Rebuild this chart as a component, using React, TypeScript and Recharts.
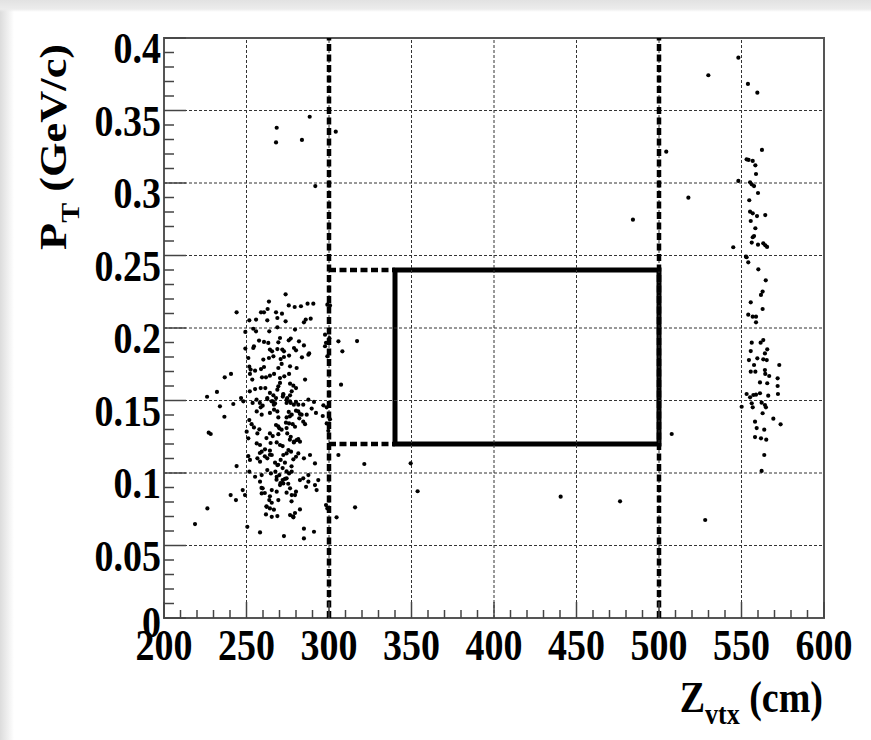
import React from "react";
import {
  ScatterChart, Scatter, XAxis, YAxis, ReferenceLine, ReferenceArea,
} from "recharts";

// Z_vtx (cm), P_T (GeV/c) pairs
const leftCluster: [number, number][] = [
  [273.7, 0.2232], [263.6, 0.2182], [244.0, 0.2108], [258.8, 0.2108], [260.6, 0.2108], [262.8, 0.2131],
  [267.9, 0.2108], [271.5, 0.2099], [275.6, 0.2156], [279.2, 0.2145], [283.0, 0.215], [287.0, 0.2168],
  [290.5, 0.2168], [299.0, 0.2161], [300.6, 0.2156],
  [251.7, 0.2053], [255.8, 0.2058], [262.6, 0.2053], [268.7, 0.2069], [273.7, 0.2046], [284.8, 0.2039],
  [285.9, 0.2058], [288.9, 0.2064],
  [249.3, 0.1973], [254.1, 0.1995], [255.8, 0.1977], [263.8, 0.1977], [268.7, 0.2005], [279.4, 0.1989],
  [276.8, 0.1927], [275.6, 0.1915], [270.3, 0.1931], [269.3, 0.1901], [257.6, 0.1913], [260.6, 0.1904],
  [263.2, 0.1897], [254.5, 0.1874], [254.1, 0.1862], [249.3, 0.1858], [281.8, 0.1908], [284.8, 0.188],
  [264.2, 0.1851], [265.5, 0.1839], [268.7, 0.1855], [271.7, 0.1851], [272.7, 0.1839], [280.0, 0.1846],
  [278.8, 0.1862], [275.8, 0.181], [272.7, 0.18], [270.7, 0.1786], [260.2, 0.1782], [263.6, 0.1793],
  [266.3, 0.1805], [283.6, 0.1798], [287.5, 0.1816], [251.1, 0.1793],
  [251.7, 0.1733], [252.5, 0.1713], [255.2, 0.1706], [258.8, 0.1717], [260.6, 0.1731], [269.3, 0.1724],
  [271.3, 0.1752], [276.4, 0.1736], [280.4, 0.1724], [288.0, 0.1825],
  [264.2, 0.1671], [266.7, 0.1683], [261.8, 0.166], [259.4, 0.166], [270.3, 0.1655], [272.9, 0.1667],
  [275.8, 0.1683], [252.1, 0.1683], [253.5, 0.1644], [285.5, 0.1644], [236.8, 0.166], [240.6, 0.1683],
  [269.3, 0.1598], [268.7, 0.1575], [270.3, 0.1621], [255.2, 0.1579], [258.6, 0.1586], [261.4, 0.1586],
  [276.4, 0.1616], [278.4, 0.1602], [280.0, 0.1586], [277.4, 0.1563],
  [264.2, 0.1552], [266.3, 0.1536], [267.9, 0.1517], [262.6, 0.151], [272.3, 0.1545], [274.7, 0.1517],
  [276.4, 0.1536], [232.1, 0.1559], [226.1, 0.1526], [246.7, 0.1517], [248.1, 0.1494], [233.9, 0.146],
  [242.0, 0.1476], [253.7, 0.1483], [259.8, 0.1464], [258.6, 0.1453], [265.9, 0.1494], [267.3, 0.148],
  [272.0, 0.1527], [274.3, 0.1483], [276.8, 0.1483], [280.0, 0.149], [281.4, 0.1471], [284.4, 0.1471],
  [287.5, 0.1506], [289.5, 0.1444], [290.9, 0.149], [296.6, 0.1467], [298.6, 0.1453],
  [256.2, 0.1425], [259.2, 0.1402], [264.2, 0.1414], [266.7, 0.1437], [268.7, 0.1425], [275.6, 0.1421],
  [277.4, 0.1402], [280.0, 0.143], [282.4, 0.1407], [286.5, 0.1402], [292.1, 0.1414],
  [307.3, 0.1609], [305.7, 0.1908], [308.1, 0.1839], [297.6, 0.1954], [300.2, 0.193], [297.6, 0.1874],
  [298.2, 0.1898], [299.0, 0.1805],
  [269.3, 0.1383], [296.2, 0.1393], [236.6, 0.1388], [251.7, 0.1365], [253.1, 0.1337], [254.5, 0.1314],
  [274.3, 0.1383], [273.9, 0.1347], [275.8, 0.1342], [267.9, 0.1331], [269.9, 0.1308], [278.0, 0.1337],
  [279.4, 0.1319], [284.4, 0.1354], [285.5, 0.1337], [282.0, 0.1377],
  [257.8, 0.1301], [256.6, 0.1273], [264.2, 0.1273], [265.9, 0.1255], [269.3, 0.1268], [227.1, 0.1278],
  [228.3, 0.1269], [250.1, 0.1285], [251.1, 0.1239], [274.7, 0.1273], [276.8, 0.125], [278.8, 0.1216],
  [280.4, 0.1227], [282.4, 0.1216],
  [256.2, 0.1204], [258.2, 0.1193], [261.2, 0.1163], [259.2, 0.1147], [268.3, 0.1211], [270.3, 0.1193],
  [271.9, 0.1186], [275.4, 0.1158], [277.0, 0.1147], [274.3, 0.1135], [272.3, 0.1124], [264.2, 0.1154],
  [265.3, 0.1124], [262.6, 0.1101], [251.1, 0.1117], [252.1, 0.109], [256.6, 0.1101], [258.2, 0.1078],
  [244.0, 0.1048],
  [267.3, 0.1071], [268.7, 0.1055], [270.7, 0.109], [273.3, 0.1071], [278.4, 0.1094], [280.0, 0.1112],
  [281.4, 0.1135], [288.5, 0.1124], [291.5, 0.1066], [284.8, 0.1101],
  [262.6, 0.102], [264.8, 0.0997], [267.5, 0.1009], [268.3, 0.0974], [269.9, 0.0986], [271.9, 0.0951],
  [274.3, 0.0963], [275.8, 0.0997], [277.4, 0.1009], [272.3, 0.0928], [270.3, 0.0917],
  [251.7, 0.1009], [255.2, 0.0974], [259.2, 0.0986], [258.2, 0.094], [282.4, 0.0951], [284.4, 0.0963],
  [287.5, 0.0986],
  [259.8, 0.0894], [259.2, 0.0859], [265.3, 0.0882], [268.3, 0.0871], [276.4, 0.0894], [277.4, 0.0848],
  [279.4, 0.0848], [280.0, 0.0871], [274.3, 0.0864], [286.1, 0.0905], [287.5, 0.094], [291.5, 0.0917],
  [292.5, 0.0882], [293.5, 0.0951], [298.2, 0.0779], [299.0, 0.0756],
  [240.4, 0.0848], [243.6, 0.0813], [247.7, 0.0882], [249.1, 0.0848], [263.8, 0.0813], [265.3, 0.0795],
  [269.3, 0.0813], [262.2, 0.0767], [264.2, 0.0756], [226.3, 0.0756], [218.8, 0.0648],
  [261.8, 0.0714], [265.3, 0.0698], [268.7, 0.0703], [276.4, 0.071], [278.4, 0.0694], [282.4, 0.0749],
  [304.6, 0.0694], [250.5, 0.0629], [258.2, 0.059], [272.7, 0.0565], [284.8, 0.0616], [284.8, 0.0549],
  [290.9, 0.0595], [305.7, 0.1124], [298.6, 0.1342], [299.6, 0.1291], [300.6, 0.137],
  // denser core, second pass
  [252.0, 0.1563], [256.1, 0.1506], [258.1, 0.1483], [262.6, 0.1517], [265.2, 0.1494], [266.6, 0.1471],
  [272.3, 0.154], [274.3, 0.1506], [276.3, 0.1494], [278.7, 0.1471], [281.4, 0.1425], [283.4, 0.1402],
  [276.3, 0.1391], [269.2, 0.1322], [271.3, 0.1299], [274.3, 0.131], [276.3, 0.123], [278.7, 0.1211],
  [281.4, 0.1234], [262.1, 0.1241], [264.6, 0.1207], [258.1, 0.1138], [261.1, 0.1115], [264.2, 0.1126],
  [269.2, 0.1057], [271.9, 0.1034], [274.3, 0.1011], [277.3, 0.1046], [268.2, 0.0954], [270.6, 0.0931],
  [273.3, 0.0959], [275.3, 0.0926], [259.1, 0.0897], [261.1, 0.0862], [264.2, 0.0839], [262.1, 0.077],
  [266.6, 0.0747], [277.3, 0.0805], [278.3, 0.0701], [279.4, 0.0724],
];

const scattered: [number, number][] = [
  [268.3, 0.3381], [267.9, 0.328], [283.6, 0.3297], [288.3, 0.3457], [304.1, 0.3354], [291.7, 0.2979],
  [317.0, 0.191], [321.4, 0.1062], [349.5, 0.1067], [353.7, 0.0874], [315.8, 0.0763], [440.4, 0.0837],
  [476.4, 0.0805], [507.7, 0.1269], [504.4, 0.3216], [517.8, 0.2899], [484.2, 0.2747],
  [548.1, 0.3864], [529.9, 0.3743], [553.9, 0.3683], [559.6, 0.3623], [528.0, 0.0676],
];

const rightCluster: [number, number][] = [
  [562.4, 0.3228], [553.1, 0.3163], [554.3, 0.3159], [556.8, 0.3152], [558.4, 0.3122], [558.8, 0.3062],
  [548.1, 0.3014], [555.2, 0.3005], [556.2, 0.2991], [557.6, 0.2979], [560.0, 0.2931], [554.7, 0.2881],
  [555.2, 0.2802], [556.8, 0.2791], [559.4, 0.2772], [564.4, 0.2779], [555.6, 0.2738], [558.4, 0.2688],
  [557.6, 0.2634], [556.8, 0.2626], [545.0, 0.2557], [556.2, 0.2589], [560.0, 0.2575], [563.2, 0.2584],
  [564.4, 0.257], [565.5, 0.2559], [552.7, 0.2492], [553.1, 0.2488], [554.1, 0.2453], [560.2, 0.2405],
  [564.7, 0.2329], [562.8, 0.2251], [561.8, 0.2228],
  [555.6, 0.2177], [562.8, 0.2131], [554.1, 0.2092], [556.8, 0.2078], [558.8, 0.2078], [558.8, 0.2039],
  [556.2, 0.1899], [561.6, 0.1899], [563.2, 0.1917], [555.6, 0.1841], [564.2, 0.1825], [565.6, 0.1853],
  [554.5, 0.1779], [559.6, 0.1791], [563.2, 0.1784], [565.3, 0.1779], [557.6, 0.1745], [572.9, 0.1745],
  [555.6, 0.1699], [558.4, 0.1699], [564.2, 0.171], [564.4, 0.1683], [566.8, 0.1669], [571.9, 0.1653],
  [561.2, 0.1625], [565.6, 0.1619], [571.9, 0.16],
  [553.1, 0.1545], [555.2, 0.1522], [557.2, 0.1538], [558.8, 0.154], [561.2, 0.155], [566.2, 0.1533],
  [572.1, 0.1545], [550.1, 0.1457], [556.2, 0.1481], [556.8, 0.1453], [562.2, 0.1485], [564.2, 0.1469],
  [564.8, 0.1453], [562.8, 0.1412], [569.3, 0.1375], [573.7, 0.1336], [558.2, 0.1354], [559.2, 0.131],
  [563.8, 0.1299], [558.2, 0.1248], [561.8, 0.1239], [565.0, 0.123], [563.8, 0.1124], [562.2, 0.1014],
];

// axes
const xMajor = [200, 250, 300, 350, 400, 450, 500, 550, 600];
const yMajor = [0, 0.05, 0.1, 0.15, 0.2, 0.25, 0.3, 0.35, 0.4];
const xLabels = ["200", "250", "300", "350", "400", "450", "500", "550", "600"];
const yLabels = ["0", "0.05", "0.1", "0.15", "0.2", "0.25", "0.3", "0.35", "0.4"];

// cut lines and signal box
const zCuts = [300, 500];
const box = { z1: 340, z2: 500, pt1: 0.12, pt2: 0.24 };

const subdivide = (major: number[], n: number) => {
  const out: number[] = [];
  for (let i = 0; i < major.length - 1; i++) {
    const step = (major[i + 1] - major[i]) / n;
    for (let k = 0; k < n; k++) out.push(+(major[i] + k * step).toFixed(4));
  }
  out.push(major[major.length - 1]);
  return out;
};
const xTicks = subdivide(xMajor, 5);
const yTicks = subdivide(yMajor, 5);

const toPoints = (arr: [number, number][]) => arr.map(([z, pt]) => ({ z, pt }));
const data = [...toPoints(leftCluster), ...toPoints(scattered), ...toPoints(rightCluster)];

const FONT = "'Liberation Serif', 'Times New Roman', serif";
const TICK = "#444";

const labelOf = (majors: number[], labels: string[], v: number) => {
  const i = majors.findIndex((m) => Math.abs(m - v) < 1e-6);
  return i >= 0 ? labels[i] : null;
};

const XTick = (props: any) => {
  const { x, y, payload } = props;
  const lab = labelOf(xMajor, xLabels, payload.value);
  return (
    <g>
      <line x1={x} y1={y} x2={x} y2={y - (lab ? 16 : 8)} stroke={TICK} strokeWidth={1.5} />
      {lab && (
        <text transform={`translate(${x},${y + 42}) scale(1,1.15)`} textAnchor="middle"
          fontFamily={FONT} fontWeight="bold" fontSize={38} fill="#000">{lab}</text>
      )}
    </g>
  );
};

const YTick = (props: any) => {
  const { x, y, payload } = props;
  const lab = labelOf(yMajor, yLabels, payload.value);
  // the "0" at the origin sits a bit higher, overlapping "200" as in the original
  const dy = payload.value === 0 ? 19 : 25;
  return (
    <g>
      <line x1={x} y1={y} x2={x + (lab ? 22 : 10)} y2={y} stroke={TICK} strokeWidth={1.5} />
      {lab && (
        <text transform={`translate(${x - 3},${y + dy}) scale(1,1.15)`} textAnchor="end"
          fontFamily={FONT} fontWeight="bold" fontSize={38} fill="#000">{lab}</text>
      )}
    </g>
  );
};

const Dot = (p: any) => <circle cx={p.cx} cy={p.cy} r={2.1} fill="#000" />;

export default function App() {
  return (
    <div
      style={{
        position: "fixed", left: 0, top: 0, width: 871, height: 740,
        background:
          "linear-gradient(to bottom, #e2e2e2 0px, #ececec 9px, rgba(255,255,255,0) 12px), linear-gradient(to right, #dcdcdc 0px, #f2f2f2 9px, #ffffff 14px)",
      }}
    >
      <ScatterChart width={871} height={740} margin={{ top: 38, right: 47, bottom: 70, left: 64 }}>
        <XAxis type="number" dataKey="z" domain={[200, 600]} ticks={xTicks} interval={0}
          tick={<XTick />} tickSize={0} tickMargin={0} axisLine={false} tickLine={false}
          height={52} allowDataOverflow />
        <YAxis type="number" dataKey="pt" domain={[0, 0.4]} ticks={yTicks} interval={0}
          tick={<YTick />} tickSize={0} tickMargin={0} axisLine={false} tickLine={false}
          width={100} allowDataOverflow />
        {xMajor.slice(1, -1).map((v) => (
          <ReferenceLine key={"gx" + v} x={v} stroke="#333" strokeWidth={1} strokeDasharray="3 2" />
        ))}
        {yMajor.slice(1, -1).map((v) => (
          <ReferenceLine key={"gy" + v} y={v} stroke="#333" strokeWidth={1} strokeDasharray="3 2" />
        ))}
        <ReferenceArea x1={200} x2={600} y1={0} y2={0.4} fill="none" fillOpacity={0}
          stroke="#555" strokeWidth={2} />
        {zCuts.map((v) => (
          <ReferenceLine key={"cut" + v} x={v} stroke="#000" strokeWidth={4.5} strokeDasharray="7 3.5" />
        ))}
        <ReferenceLine segment={[{ x: zCuts[0], y: box.pt2 }, { x: box.z1, y: box.pt2 }]}
          stroke="#000" strokeWidth={4.5} strokeDasharray="7 3.5" />
        <ReferenceLine segment={[{ x: zCuts[0], y: box.pt1 }, { x: box.z1, y: box.pt1 }]}
          stroke="#000" strokeWidth={4.5} strokeDasharray="7 3.5" />
        <ReferenceArea x1={box.z1} x2={box.z2} y1={box.pt1} y2={box.pt2} fill="none" fillOpacity={0}
          stroke="#000" strokeWidth={5} />
        <Scatter data={data} shape={<Dot />} isAnimationActive={false} />
      </ScatterChart>
      <svg width={871} height={740} style={{ position: "absolute", left: 0, top: 0, pointerEvents: "none" }}>
        <text transform="translate(823,712) scale(1,1.15)" textAnchor="end"
          fontFamily={FONT} fontWeight="bold" fontSize={38} fill="#000">
          Z<tspan fontSize={26} dy={10}>vtx</tspan><tspan dy={-10}> (cm)</tspan>
        </text>
        <text transform="translate(66,250) rotate(-90) scale(1.2,1)" textAnchor="start"
          fontFamily={FONT} fontWeight="bold" fontSize={37} fill="#000">
          P<tspan fontSize={25} dy={13}>T</tspan><tspan dy={-13}> (GeV/c)</tspan>
        </text>
      </svg>
    </div>
  );
}
